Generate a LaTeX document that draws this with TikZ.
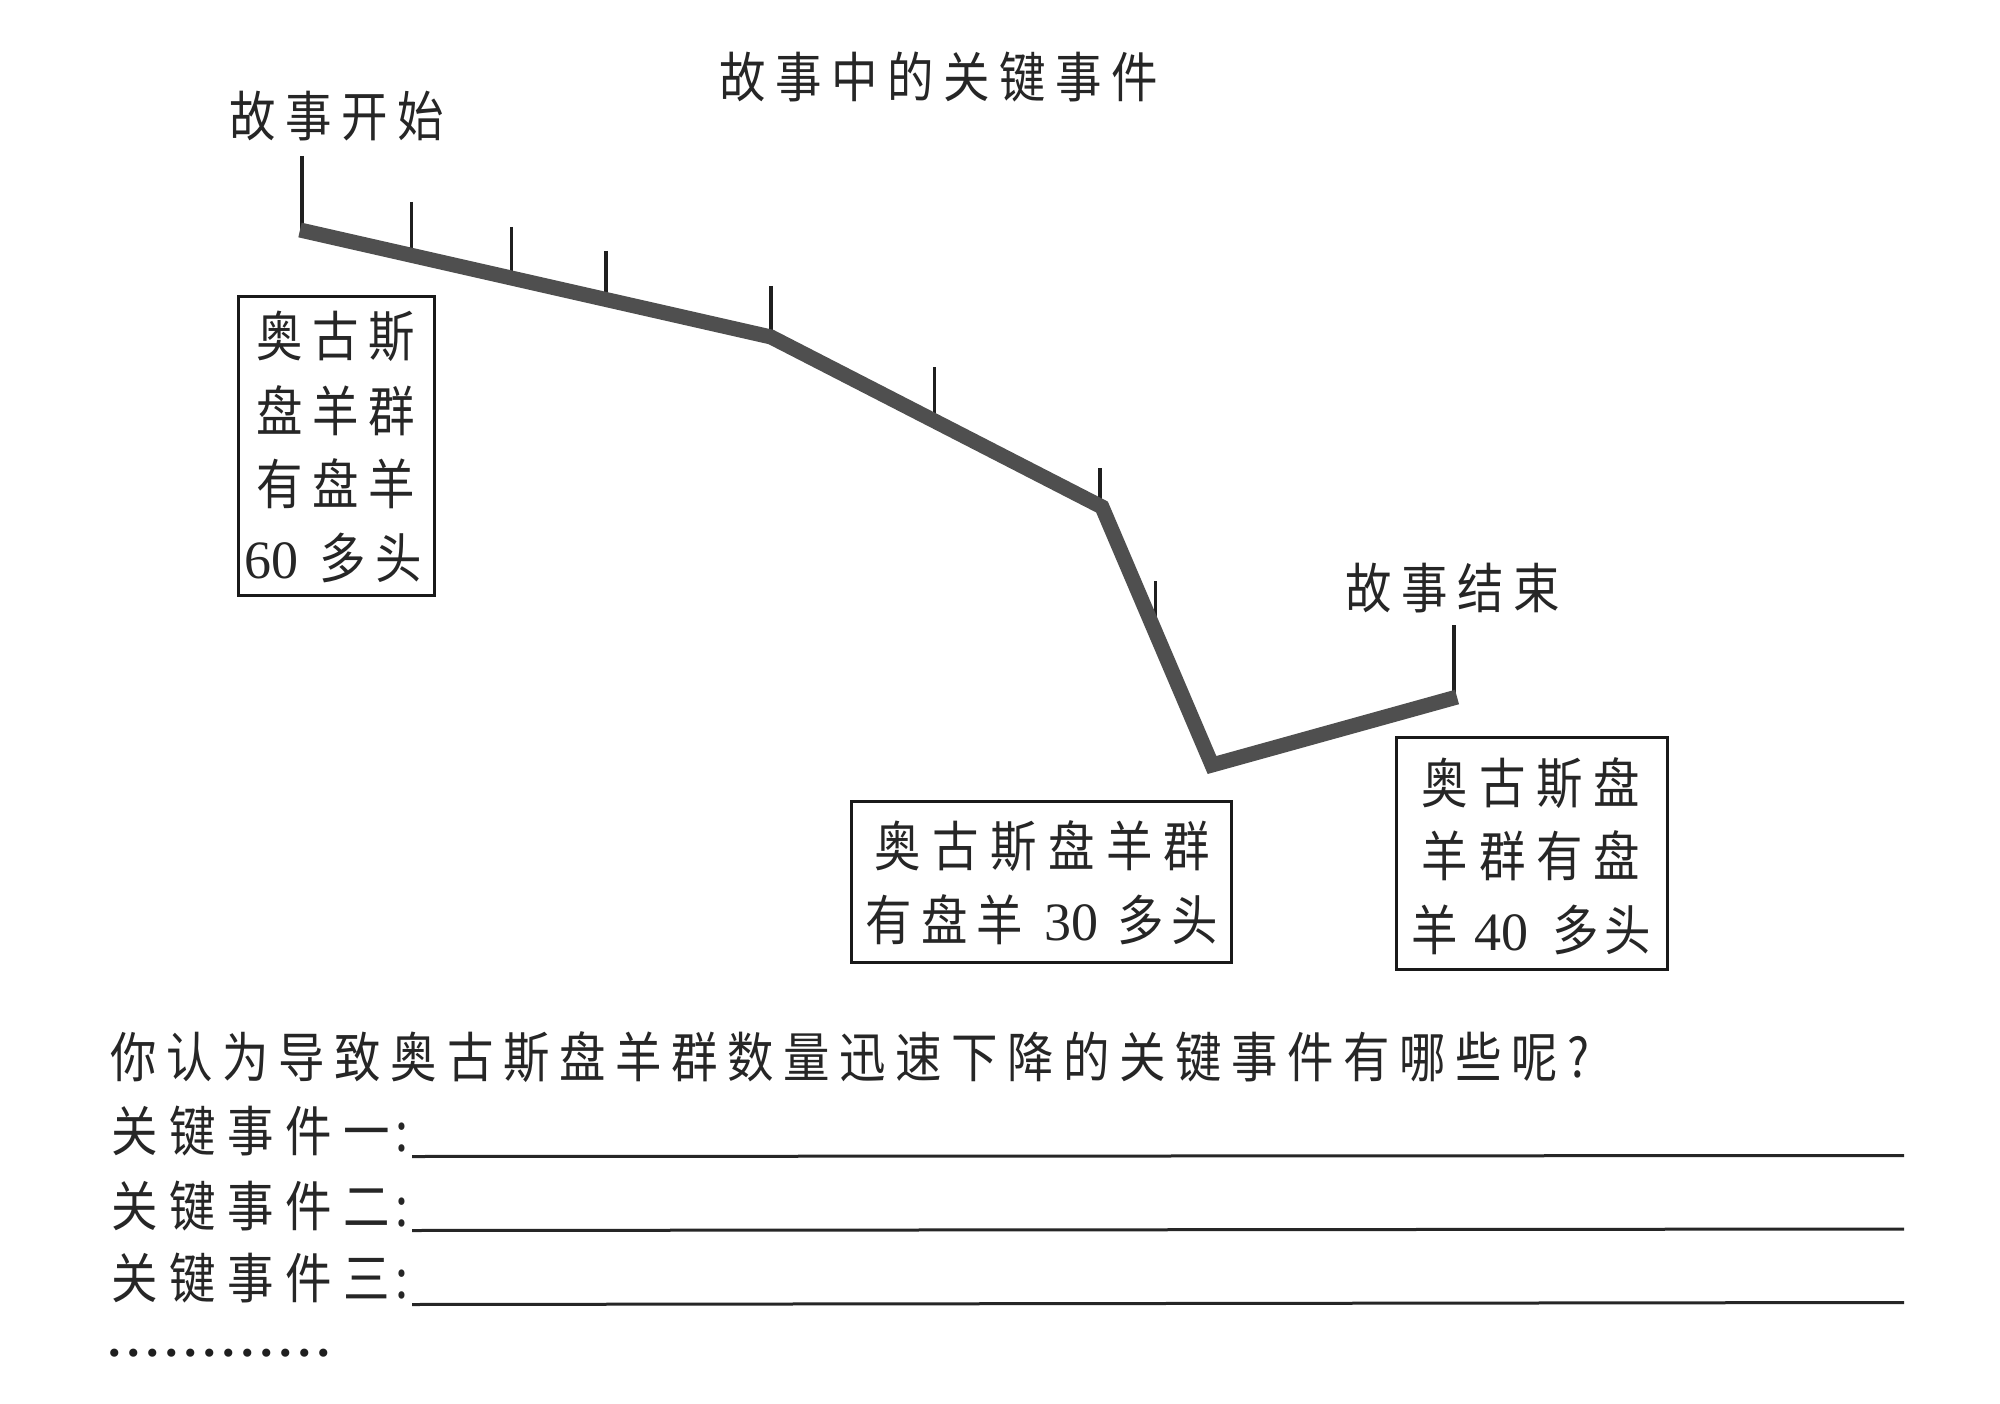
\documentclass[tikz,border=0pt]{standalone}
\usepackage{fontspec}
\newfontfamily\cjk[FakeStretch=0.86]{Noto Sans CJK SC}
\newfontfamily\dgfont{Liberation Serif}
\newdimen\lsgapdim
\def\lsend{\lsend}
\newcommand\lsp[2]{\lsgapdim=#1\relax\lsloop#2\lsend}
\def\lsloop#1{\ifx#1\lsend\else\kern0.5\lsgapdim#1\kern0.5\lsgapdim\expandafter\lsloop\fi}
\tikzset{
  txt/.style={inner sep=0pt, outer sep=0pt, text=black!85, font=\cjk\fontsize{54}{60}\selectfont},
  boxframe/.style={draw=black!90, line width=3pt, inner sep=0pt, fill=none},
  band/.style={line width=15pt, draw=black!69, line join=miter, line cap=butt},
  tickline/.style={line width=3.4pt, draw=black!88},
  uline/.style={line width=3pt, draw=black!85},
}
\newcommand\dgt[1]{{\dgfont\fontsize{54}{60}\selectfont #1}}
\begin{document}
\begin{tikzpicture}[x=1pt, y=-1pt]
\fill[white] (0,0) rectangle (2000,1404);
\useasboundingbox (0,0) rectangle (2000,1404);

% title and end labels
\node[txt] (title) at (939,77) {\lsp{9.6pt}{故事中的关键事件}};
\node[txt] (start) at (336.7,116.5) {\lsp{9.6pt}{故事开始}};
\node[txt] (finish) at (1452.5,588) {\lsp{9.6pt}{故事结束}};

% band vertices
\coordinate (P0) at (300,230);
\coordinate (P1) at (771,337);
\coordinate (P2) at (1102,507);
\coordinate (P3) at (1212,765);
\coordinate (P4) at (1457,697);

% ticks
\coordinate (t1a) at (302,156);   \coordinate (t1b) at (302,232);
\coordinate (t2a) at (411.6,202); \coordinate (t2b) at (411.6,256);
\coordinate (t3a) at (511.6,227); \coordinate (t3b) at (511.6,279);
\coordinate (t4a) at (605.8,251); \coordinate (t4b) at (605.8,300);
\coordinate (t5a) at (771,286);   \coordinate (t5b) at (771,338);
\coordinate (t6a) at (934.7,367.5); \coordinate (t6b) at (934.7,421);
\coordinate (t7a) at (1100,468);  \coordinate (t7b) at (1100,508);
\coordinate (t8a) at (1155.6,581); \coordinate (t8b) at (1155.6,630);
\coordinate (t9a) at (1454,625);  \coordinate (t9b) at (1454,698);
\foreach \i in {1,...,9} {\draw[tickline] (t\i a) -- (t\i b);}

\draw[band] (P0) -- (P1) -- (P2) -- (P3) -- (P4);

% box 1
\node[boxframe, minimum width=196, minimum height=298] (box1) at (336,446) {};
\node[txt] (b1r1) at (336,336) {\lsp{9.6pt}{奥古斯}};
\node[txt] (b1r2) at (336,411) {\lsp{9.6pt}{盘羊群}};
\node[txt] (b1r3) at (336,484) {\lsp{9.6pt}{有盘羊}};
\node[txt, anchor=west] (b1r4) at (244,558) {\dgt{60}\kern16.8pt\lsp{9.6pt}{多头}};

% box 2
\node[boxframe, minimum width=380, minimum height=161] (box2) at (1041,881.5) {};
\node[txt] (b2r1) at (1042.5,845.8) {\lsp{11.4pt}{奥古斯盘羊群}};
\node[txt, anchor=west] (b2r2) at (861.3,920) {\lsp{9pt}{有盘羊}\kern16.5pt\dgt{30}\kern16pt\lsp{7.6pt}{多头}};

% box 3
\node[boxframe, minimum width=271, minimum height=232] (box3) at (1531.5,853) {};
\node[txt] (b3r1) at (1531,783) {\lsp{10.9pt}{奥古斯盘}};
\node[txt] (b3r2) at (1531,856) {\lsp{10.9pt}{羊群有盘}};
\node[txt, anchor=west] (b3r3) at (1407,930) {\lsp{9.6pt}{羊}\kern11pt\dgt{40}\kern22pt\lsp{5.6pt}{多头}};

% question block
\node[txt, anchor=west] (question) at (106,1057.5) {\lsp{9.6pt}{你认为导致奥古斯盘羊群数量迅速下降的关键事件有哪些呢?}};
\node[txt, anchor=west] (lab1) at (106,1131.5) {\lsp{11.6pt}{关键事件一}\kern-1pt:};
\node[txt, anchor=west] (lab2) at (106,1206) {\lsp{11.6pt}{关键事件二}\kern-1pt:};
\node[txt, anchor=west] (lab3) at (106,1278) {\lsp{11.6pt}{关键事件三}\kern-1pt:};

\coordinate (u1a) at (412,1156.5); \coordinate (u1b) at (1904,1155.5);
\coordinate (u2a) at (412,1230.5); \coordinate (u2b) at (1904,1229);
\coordinate (u3a) at (412,1304.5); \coordinate (u3b) at (1904,1302.5);
\draw[uline] (u1a) -- (u1b);
\draw[uline] (u2a) -- (u2b);
\draw[uline] (u3a) -- (u3b);

\node[inner sep=0pt, anchor=west, text=black!88, font=\dgfont\bfseries\fontsize{50}{50}\selectfont] (dots) at (105,1353.3) {\lsp{6.5pt}{............}};
\end{tikzpicture}
\end{document}
